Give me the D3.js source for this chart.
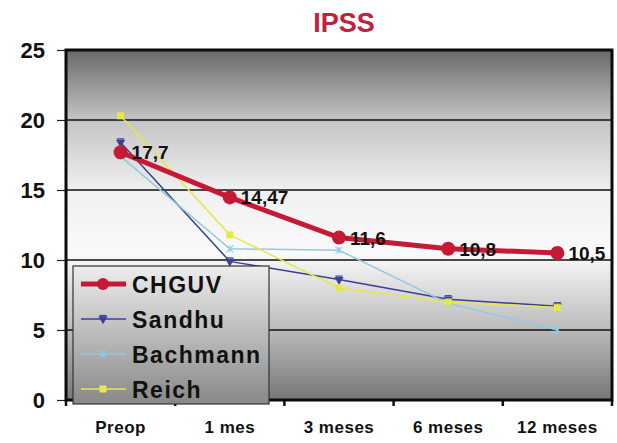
<!DOCTYPE html>
<html>
<head>
<meta charset="utf-8">
<script src="https://cdn.jsdelivr.net/npm/d3@7"></script>
<style>
  body { margin: 0; background: #fff; }
  svg { display: block; font-family: "Liberation Sans", Arial, sans-serif; }
</style>
</head>
<body>
<div id="chart"></div>
<script>
const categories = ['Preop', '1 mes', '3 meses', '6 meses', '12 meses'];
const chguv = [17.7, 14.47, 11.6, 10.8, 10.5];
const sandhu = [18.4, 9.9, 8.6, 7.2, 6.7];
const bachmann = [17.4, 10.8, 10.7, 6.9, 5.0];
const reich = [20.3, 11.8, 8.0, 7.0, 6.6];
const chguvLabels = ['17,7', '14,47', '11,6', '10,8', '10,5'];
const yTicks = [0, 5, 10, 15, 20, 25];

const series = [
  { name: 'CHGUV', values: chguv, color: '#c41a35', width: 5, marker: 'circle' },
  { name: 'Sandhu', values: sandhu, color: '#3b3f96', width: 1.5, marker: 'star' },
  { name: 'Bachmann', values: bachmann, color: '#8fcbe0', width: 1.5, marker: 'cross' },
  { name: 'Reich', values: reich, color: '#e6e84a', width: 1.5, marker: 'square' }
];

const FONT = '"Liberation Sans", Arial, sans-serif';
const W = 617, H = 443;
const margin = { top: 50, right: 5, bottom: 43, left: 66 };
const width = W - margin.left - margin.right;
const height = H - margin.top - margin.bottom;

const svg = d3.select('#chart').append('svg')
  .attr('width', W)
  .attr('height', H);

const defs = svg.append('defs');
const bg = defs.append('linearGradient')
  .attr('id', 'plotBg').attr('x1', 0).attr('y1', 0).attr('x2', 0).attr('y2', 1);
[[0, '#686b69'], [0.2, '#c3c4c3'], [0.4, '#f0f0f0'], [0.58, '#fafafa'], [0.8, '#bababa'], [1, '#777777']]
  .forEach(([o, c]) => bg.append('stop').attr('offset', o).attr('stop-color', c));

const lg = defs.append('linearGradient')
  .attr('id', 'legendBg').attr('x1', 0).attr('y1', 0).attr('x2', 0).attr('y2', 1);
[[0, '#ededed'], [1, '#888888']]
  .forEach(([o, c]) => lg.append('stop').attr('offset', o).attr('stop-color', c));

// Title
svg.append('text')
  .attr('x', 344)
  .attr('y', 32)
  .attr('text-anchor', 'middle')
  .attr('fill', '#c0223b')
  .style('font-size', '27px')
  .style('font-weight', 'bold')
  .text('IPSS');

const g = svg.append('g')
  .attr('transform', `translate(${margin.left},${margin.top})`);

const x = d3.scaleBand()
  .domain(categories)
  .range([0, width]);

const y = d3.scaleLinear()
  .domain([0, 25])
  .range([height, 0]);

// Plot background
g.append('rect')
  .attr('width', width)
  .attr('height', height)
  .attr('fill', 'url(#plotBg)');

// Gridlines
g.selectAll('.grid')
  .data(yTicks.filter(d => d > 0 && d < 25))
  .enter()
  .append('line')
  .attr('x1', 0)
  .attr('x2', width)
  .attr('y1', d => y(d))
  .attr('y2', d => y(d))
  .attr('stroke', '#111')
  .attr('stroke-width', 1.5);

// Y axis
const yAxis = g.append('g')
  .call(d3.axisLeft(y).tickValues(yTicks).tickSize(9).tickPadding(12));
yAxis.select('.domain').remove();
yAxis.selectAll('line').attr('stroke', '#222').attr('stroke-width', 1.2);
yAxis.selectAll('text')
  .attr('fill', '#111')
  .style('font-size', '22px')
  .style('font-weight', 'bold')
  .style('font-family', FONT);

// X axis
const xAxis = g.append('g')
  .attr('transform', `translate(0,${height})`)
  .call(d3.axisBottom(x).tickSize(0).tickPadding(21));
xAxis.select('.domain').remove();
xAxis.selectAll('text')
  .attr('fill', '#111')
  .style('font-size', '17px')
  .style('font-weight', 'bold')
  .style('letter-spacing', '0.5px')
  .style('font-family', FONT);

// tick marks at band boundaries
const bounds = categories.map(c => x(c)).concat([width]);
g.selectAll('.xtick')
  .data(bounds)
  .enter()
  .append('line')
  .attr('x1', d => d)
  .attr('x2', d => d)
  .attr('y1', height)
  .attr('y2', height + 6)
  .attr('stroke', '#111')
  .attr('stroke-width', 2.5);

// Frame
g.append('rect')
  .attr('width', width)
  .attr('height', height)
  .attr('fill', 'none')
  .attr('stroke', '#0b0b0b')
  .attr('stroke-width', 3);

const cx = i => x(categories[i]) + x.bandwidth() / 2;

function drawMarker(sel, s, size) {
  if (s.marker === 'circle') {
    sel.append('circle').attr('r', size).attr('fill', s.color);
  } else if (s.marker === 'square') {
    sel.append('rect')
      .attr('x', -size).attr('y', -size)
      .attr('width', size * 2).attr('height', size * 2)
      .attr('fill', s.color);
  } else if (s.marker === 'star') {
    sel.append('path')
      .attr('d', d3.symbol(d3.symbolTriangle, size * size * 3)())
      .attr('transform', 'rotate(180)')
      .attr('fill', s.color);
    sel.append('line')
      .attr('x1', -size).attr('x2', size)
      .attr('y1', -size).attr('y2', -size)
      .attr('stroke', s.color).attr('stroke-width', 1.2);
  } else if (s.marker === 'cross') {
    sel.append('path')
      .attr('d', `M${-size},${-size}L${size},${size}M${-size},${size}L${size},${-size}M0,${-size}L0,${size}`)
      .attr('stroke', s.color)
      .attr('stroke-width', 1.2)
      .attr('fill', 'none');
  }
}

const line = d3.line()
  .x((d, i) => cx(i))
  .y(d => y(d));

// draw thin series first, CHGUV on top
[series[1], series[2], series[3], series[0]].forEach(s => {
  g.append('path')
    .datum(s.values)
    .attr('d', line)
    .attr('fill', 'none')
    .attr('stroke', s.color)
    .attr('stroke-width', s.width);

  const size = s.marker === 'circle' ? 7 : 3.5;
  s.values.forEach((v, i) => {
    const m = g.append('g').attr('transform', `translate(${cx(i)},${y(v)})`);
    drawMarker(m, s, size);
  });
});

// Data labels for CHGUV
g.selectAll('.dlabel')
  .data(chguv)
  .enter()
  .append('text')
  .attr('x', (d, i) => cx(i) + 11)
  .attr('y', d => y(d) + 7)
  .attr('fill', '#111')
  .style('font-size', '19px')
  .style('font-weight', 'bold')
  .style('font-family', FONT)
  .text((d, i) => chguvLabels[i]);

// Legend
const legend = svg.append('g')
  .attr('transform', 'translate(73,266)');

legend.append('rect')
  .attr('width', 196)
  .attr('height', 138)
  .attr('fill', 'url(#legendBg)')
  .attr('stroke', '#333')
  .attr('stroke-width', 1.2);

series.forEach((s, i) => {
  const row = legend.append('g')
    .attr('transform', `translate(0,${18 + i * 35})`);
  row.append('line')
    .attr('x1', 8).attr('x2', 53)
    .attr('y1', 0).attr('y2', 0)
    .attr('stroke', s.color)
    .attr('stroke-width', s.width);
  const m = row.append('g').attr('transform', 'translate(30,0)');
  drawMarker(m, s, s.marker === 'circle' ? 6 : 3.5);
  row.append('text')
    .attr('x', 59)
    .attr('y', 9)
    .attr('fill', '#111')
    .style('font-size', '23px')
    .style('font-weight', 'bold')
    .style('letter-spacing', '1.5px')
    .style('font-family', FONT)
    .text(s.name);
});
</script>
</body>
</html>
